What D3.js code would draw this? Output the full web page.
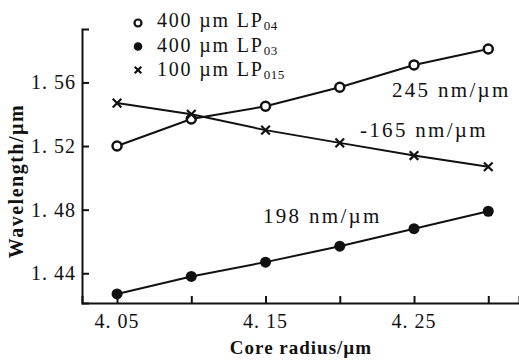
<!DOCTYPE html>
<html>
<head>
<meta charset="utf-8">
<script src="https://cdn.jsdelivr.net/npm/d3@7"></script>
<style>
  body { margin: 0; background: #fff; }
  svg { display: block; }
  text { font-family: "Liberation Serif", "DejaVu Serif", serif; fill: #111; }
</style>
</head>
<body>
<svg></svg>
<script>
// data
const radius = [4.05, 4.10, 4.15, 4.20, 4.25, 4.30];
const lp04 = [1.520, 1.537, 1.545, 1.557, 1.571, 1.581];
const lp03 = [1.427, 1.438, 1.447, 1.457, 1.468, 1.479];
const lp015 = [1.547, 1.540, 1.530, 1.522, 1.514, 1.507];
const xTicks = [4.05, 4.10, 4.15, 4.20, 4.25, 4.30];
const xTickLabels = ['4. 05', '', '4. 15', '', '4. 25', ''];
const yTicks = [1.44, 1.48, 1.52, 1.56];
const yTickLabels = ['1. 44', '1. 48', '1. 52', '1. 56'];
const legendNames = [['400 µm LP', '04'], ['400 µm LP', '03'], ['100 µm LP', '015']];
const slopeLabels = ['245 nm/µm', '-165 nm/µm', '198 nm/µm'];

(() => {
    const W = 519, H = 360;
    const left = 82, right = 519, top = 29, bottom = 303;

    const svg = d3.select('svg').attr('width', W).attr('height', H);

    const x = d3.scaleLinear().domain([4.0264, 4.3207]).range([left, right]);
    const y = d3.scaleLinear().domain([1.4213, 1.5936]).range([bottom, top]);

    // axes
    const xAxis = svg.append('g')
        .attr('transform', `translate(0, ${bottom})`)
        .call(d3.axisTop(x).tickValues(xTicks).tickSize(7).tickFormat(''));
    xAxis.select('.domain').attr('stroke', '#111').attr('stroke-width', 2);
    xAxis.selectAll('.tick line').attr('stroke', '#111').attr('stroke-width', 2);

    const yAxis = svg.append('g')
        .attr('transform', `translate(${left}, 0)`)
        .call(d3.axisRight(y).tickValues(yTicks).tickSize(7).tickFormat(''));
    yAxis.select('.domain').attr('stroke', '#111').attr('stroke-width', 2);
    yAxis.selectAll('.tick line').attr('stroke', '#111').attr('stroke-width', 2);

    // tick labels
    svg.selectAll('.xlab')
        .data(xTicks)
        .enter().append('text')
        .attr('x', d => x(d))
        .attr('y', bottom + 25)
        .attr('text-anchor', 'middle')
        .attr('font-size', 20)
        .attr('letter-spacing', 1)
        .text((d, i) => xTickLabels[i]);

    svg.selectAll('.ylab')
        .data(yTicks)
        .enter().append('text')
        .attr('x', left - 6)
        .attr('y', d => y(d) + 7)
        .attr('text-anchor', 'end')
        .attr('font-size', 20)
        .attr('letter-spacing', 1)
        .text((d, i) => yTickLabels[i]);

    // axis titles
    svg.append('text')
        .attr('x', 301)
        .attr('y', 354)
        .attr('text-anchor', 'middle')
        .attr('font-size', 19)
        .attr('font-weight', 'bold')
        .attr('letter-spacing', 1)
        .text('Core radius/µm');

    svg.append('text')
        .attr('transform', 'translate(23, 181) rotate(-90)')
        .attr('text-anchor', 'middle')
        .attr('font-size', 20)
        .attr('font-weight', 'bold')
        .attr('letter-spacing', 1.5)
        .text('Wavelength/µm');

    // lines
    const line = d3.line().x(d => x(d[0])).y(d => y(d[1]));
    const series = [lp04, lp03, lp015].map(vals => radius.map((r, i) => [r, vals[i]]));

    svg.selectAll('.series')
        .data(series)
        .enter().append('path')
        .attr('d', line)
        .attr('fill', 'none')
        .attr('stroke', '#111')
        .attr('stroke-width', 2);

    // markers
    svg.selectAll('.open')
        .data(series[0])
        .enter().append('circle')
        .attr('cx', d => x(d[0]))
        .attr('cy', d => y(d[1]))
        .attr('r', 4.5)
        .attr('fill', '#fff')
        .attr('stroke', '#111')
        .attr('stroke-width', 2.5);

    svg.selectAll('.filled')
        .data(series[1])
        .enter().append('circle')
        .attr('cx', d => x(d[0]))
        .attr('cy', d => y(d[1]))
        .attr('r', 5.5)
        .attr('fill', '#111');

    const cross = d3.symbol().type(d3.symbolTimes).size(50);
    svg.selectAll('.cross')
        .data(series[2])
        .enter().append('path')
        .attr('d', cross)
        .attr('transform', d => `translate(${x(d[0])}, ${y(d[1])})`)
        .attr('fill', 'none')
        .attr('stroke', '#111')
        .attr('stroke-width', 2.2);

    // slope annotations
    const annot = [[392, 97], [360, 137], [263, 223]];
    svg.selectAll('.slope')
        .data(slopeLabels)
        .enter().append('text')
        .attr('x', (d, i) => annot[i][0])
        .attr('y', (d, i) => annot[i][1])
        .attr('font-size', 21)
        .attr('letter-spacing', 2.3)
        .text(d => d);

    // legend
    const legend = svg.append('g');
    const rows = legend.selectAll('g')
        .data(legendNames)
        .enter().append('g')
        .attr('transform', (d, i) => `translate(138, ${23 + i * 23.5})`);

    rows.filter((d, i) => i === 0).append('circle')
        .attr('r', 3.5).attr('fill', '#fff').attr('stroke', '#111').attr('stroke-width', 2.2);
    rows.filter((d, i) => i === 1).append('circle')
        .attr('r', 4.3).attr('fill', '#111');
    rows.filter((d, i) => i === 2).append('path')
        .attr('d', d3.symbol().type(d3.symbolTimes).size(30))
        .attr('fill', 'none').attr('stroke', '#111').attr('stroke-width', 2.2);

    const lt = rows.append('text')
        .attr('x', 19)
        .attr('y', (d, i) => 4 + i * 1)
        .attr('font-size', 20)
        .attr('letter-spacing', 1.8);
    lt.append('tspan').text(d => d[0]);
    lt.append('tspan')
        .attr('dy', 3)
        .attr('font-size', 13)
        .attr('letter-spacing', 0.5)
        .text(d => d[1]);
})();
</script>
</body>
</html>
